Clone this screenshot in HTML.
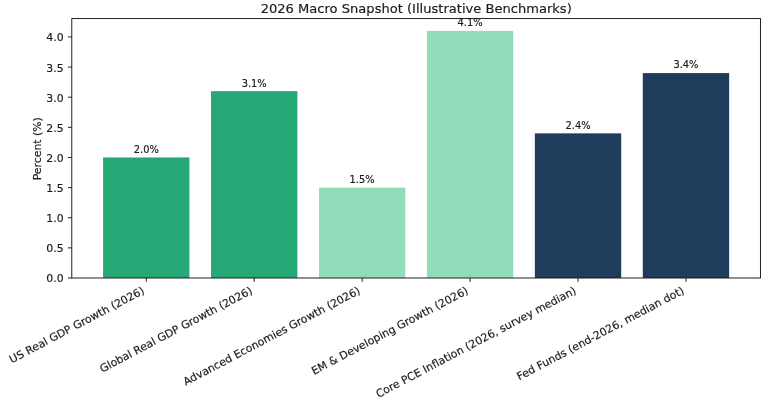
<!DOCTYPE html>
<html lang="en"><head><meta charset="utf-8"><title>2026 Macro Snapshot</title>
<style>
html,body{margin:0;padding:0;background:#fff;}
body{width:768px;height:403px;overflow:hidden;}
svg{display:block;will-change:transform;}
text{font-family:"DejaVu Sans","Liberation Sans",sans-serif;fill:#1c1c1c;stroke:#1c1c1c;stroke-width:0.18px;}
.t{font-size:10.88px;}
.l{font-size:9.87px;}
.x{font-size:10.86px;}
.ti{font-size:13.07px;}
</style></head><body>
<svg width="768" height="403" viewBox="0 0 768 403">
<rect x="0" y="0" width="768" height="403" fill="#ffffff"/>

<rect x="103.08" y="157.47" width="86.35" height="120.53" fill="#25a876"/>
<rect x="211.03" y="91.17" width="86.35" height="186.83" fill="#25a876"/>
<rect x="318.97" y="187.60" width="86.35" height="90.40" fill="#93dcba"/>
<rect x="426.91" y="30.90" width="86.35" height="247.10" fill="#93dcba"/>
<rect x="534.85" y="133.36" width="86.35" height="144.64" fill="#1f3d5a"/>
<rect x="642.79" y="73.09" width="86.35" height="204.91" fill="#1f3d5a"/>
<rect x="71.78" y="18.55" width="688.67" height="259.45" fill="none" stroke="#151515" stroke-width="0.95"/>
<line x1="67.94" y1="278.00" x2="71.78" y2="278.00" stroke="#151515" stroke-width="0.95"/>
<text class="t" x="63.60" y="282.43" text-anchor="end">0.0</text>
<line x1="67.94" y1="247.87" x2="71.78" y2="247.87" stroke="#151515" stroke-width="0.95"/>
<text class="t" x="63.60" y="252.30" text-anchor="end">0.5</text>
<line x1="67.94" y1="217.73" x2="71.78" y2="217.73" stroke="#151515" stroke-width="0.95"/>
<text class="t" x="63.60" y="222.17" text-anchor="end">1.0</text>
<line x1="67.94" y1="187.60" x2="71.78" y2="187.60" stroke="#151515" stroke-width="0.95"/>
<text class="t" x="63.60" y="192.03" text-anchor="end">1.5</text>
<line x1="67.94" y1="157.47" x2="71.78" y2="157.47" stroke="#151515" stroke-width="0.95"/>
<text class="t" x="63.60" y="161.90" text-anchor="end">2.0</text>
<line x1="67.94" y1="127.33" x2="71.78" y2="127.33" stroke="#151515" stroke-width="0.95"/>
<text class="t" x="63.60" y="131.77" text-anchor="end">2.5</text>
<line x1="67.94" y1="97.20" x2="71.78" y2="97.20" stroke="#151515" stroke-width="0.95"/>
<text class="t" x="63.60" y="101.63" text-anchor="end">3.0</text>
<line x1="67.94" y1="67.07" x2="71.78" y2="67.07" stroke="#151515" stroke-width="0.95"/>
<text class="t" x="63.60" y="71.50" text-anchor="end">3.5</text>
<line x1="67.94" y1="36.93" x2="71.78" y2="36.93" stroke="#151515" stroke-width="0.95"/>
<text class="t" x="63.60" y="41.37" text-anchor="end">4.0</text>
<line x1="146.26" y1="278.00" x2="146.26" y2="281.84" stroke="#151515" stroke-width="0.95"/>
<text class="x" text-anchor="end" transform="translate(145.20,292.99) rotate(-27.85)">US Real GDP Growth (2026)</text>
<line x1="254.20" y1="278.00" x2="254.20" y2="281.84" stroke="#151515" stroke-width="0.95"/>
<text class="x" text-anchor="end" transform="translate(253.14,292.99) rotate(-27.85)">Global Real GDP Growth (2026)</text>
<line x1="362.14" y1="278.00" x2="362.14" y2="281.84" stroke="#151515" stroke-width="0.95"/>
<text class="x" text-anchor="end" transform="translate(361.09,292.99) rotate(-27.85)">Advanced Economies Growth (2026)</text>
<line x1="470.09" y1="278.00" x2="470.09" y2="281.84" stroke="#151515" stroke-width="0.95"/>
<text class="x" text-anchor="end" transform="translate(469.03,292.99) rotate(-27.85)">EM &amp; Developing Growth (2026)</text>
<line x1="578.03" y1="278.00" x2="578.03" y2="281.84" stroke="#151515" stroke-width="0.95"/>
<text class="x" text-anchor="end" transform="translate(576.97,292.99) rotate(-27.85)">Core PCE Inflation (2026, survey median)</text>
<line x1="685.97" y1="278.00" x2="685.97" y2="281.84" stroke="#151515" stroke-width="0.95"/>
<text class="x" text-anchor="end" transform="translate(684.91,292.99) rotate(-27.85)">Fed Funds (end-2026, median dot)</text>
<text class="l" x="146.26" y="152.87" text-anchor="middle">2.0%</text>
<text class="l" x="254.20" y="86.57" text-anchor="middle">3.1%</text>
<text class="l" x="362.14" y="183.00" text-anchor="middle">1.5%</text>
<text class="l" x="470.09" y="26.30" text-anchor="middle">4.1%</text>
<text class="l" x="578.03" y="128.76" text-anchor="middle">2.4%</text>
<text class="l" x="685.97" y="68.49" text-anchor="middle">3.4%</text>
<text class="t" text-anchor="middle" transform="translate(40.7,148.78) rotate(-90)">Percent (%)</text>
<text class="ti" x="416.22" y="12.8" text-anchor="middle">2026 Macro Snapshot (Illustrative Benchmarks)</text>
</svg></body></html>
